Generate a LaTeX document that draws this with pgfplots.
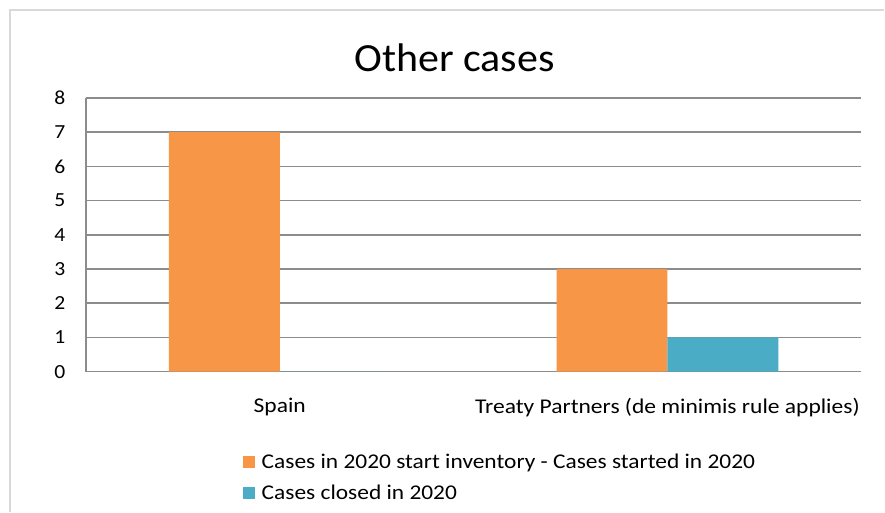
\documentclass[border=0pt]{standalone}
\usepackage{pgfplots}
\pgfplotsset{compat=1.18}
\usepackage{fontspec}
\setmainfont{Carlito}
\newfontfamily\titlefont[FakeStretch=1.05]{Carlito}
\newfontfamily\labfont[FakeStretch=1.12]{Carlito}
\newfontfamily\legfont[FakeStretch=1.115]{Carlito}
\newfontfamily\tickfont[FakeStretch=1.08]{Carlito}
\definecolor{orng}{HTML}{F79646}
\definecolor{tealc}{HTML}{4BACC6}
\definecolor{gridc}{HTML}{8C8C8C}
\begin{document}
\begin{tikzpicture}[x=1pt,y=1pt]
\path[fill=white] (0,0) rectangle (885,512);
\draw[color=black!15, line width=1.5pt] (10,0) -- (10,502) -- (885,502);
\node[font=\titlefont\fontsize{40}{48}\selectfont, anchor=center] at (455,454) {Other cases};
\begin{axis}[
  at={(86pt,140pt)}, anchor=south west,
  scale only axis, width=776pt, height=274pt,
  xmin=-0.5, xmax=1.5, ymin=0, ymax=8,
  ybar=0pt, bar width=111pt,
  xtick={0,1}, xticklabels={Spain, Treaty Partners (de minimis rule applies)},
  ytick={0,1,...,8},
  ymajorgrids, grid style={gridc, line width=1.5pt},
  axis x line*=bottom, axis y line*=left,
  axis line style={gridc, line width=1.5pt, -},
  major tick length=0pt, tick style={draw=none},
  /pgf/number format/assume math mode=true,
  yticklabel style={font=\tickfont\fontsize{20}{24}\selectfont, xshift=-17pt},
  xticklabel style={font=\labfont\fontsize{21}{25}\selectfont, yshift=-23pt},
  legend style={at={(0.202,-0.30)}, anchor=north west, draw=none,
    font=\legfont\fontsize{21}{25}\selectfont, row sep=15pt, inner sep=0pt,
    nodes={inner xsep=7pt, inner ysep=0pt},
    legend cell align=left},
  legend image code/.code={\fill[#1] (0pt,-6pt) rectangle (12pt,6pt);},
]
\addplot[fill=orng, draw=none] coordinates {(0,7) (1,3)};
\addplot[fill=tealc, draw=none] coordinates {(0,0) (1,1)};
\legend{Cases in 2020 start inventory - Cases started in 2020, Cases closed in 2020}
\end{axis}
\end{tikzpicture}
\end{document}
